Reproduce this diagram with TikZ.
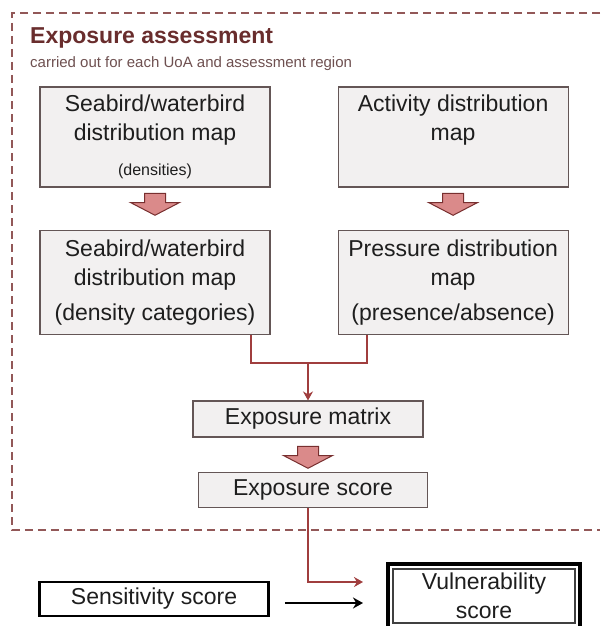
\documentclass[tikz,border=0pt]{standalone}
\usepackage{fontspec}
\setmainfont{Liberation Sans}
\usepackage{tikz}
\usetikzlibrary{arrows.meta,positioning,shapes.arrows}
\definecolor{frameRed}{RGB}{146,88,88}
\definecolor{titleRed}{RGB}{105,45,45}
\definecolor{subGray}{RGB}{110,80,80}
\definecolor{linkRed}{RGB}{160,62,62}
\definecolor{arrowPink}{RGB}{218,138,138}
\definecolor{boxGray}{RGB}{242,240,240}
\definecolor{boxEdge}{RGB}{100,86,86}
\definecolor{textGray}{RGB}{30,30,30}
\newcommand{\boxfont}{\fontsize{23}{29}\selectfont}
\newcommand{\notefont}{\fontsize{16}{19}\selectfont}

\begin{document}
\begin{tikzpicture}[
  x=1pt,y=-1pt,
  mapbox/.style={
    draw=boxEdge,
    line width=1.1pt,
    fill=boxGray,
    minimum width=230pt,
    minimum height=100pt,
    inner sep=0pt,
    align=center,
    font=\boxfont,
    text=textGray
  },
  stepbox/.style={mapbox,minimum height=36pt},
  blockarrow/.style={
    single arrow,
    draw=linkRed!75!black,
    line width=1pt,
    fill=arrowPink,
    rotate=-90,
    minimum height=22pt,
    minimum width=48pt,
    inner xsep=0pt,
    inner ysep=10pt,
    single arrow head extend=14pt,
    single arrow tip angle=125
  },
  link/.style={draw=linkRed,line width=1.5pt},
  sensbox/.style={
    draw=black,
    line width=2.5pt,
    fill=white,
    minimum width=229pt,
    minimum height=34pt,
    inner sep=0pt,
    font=\boxfont,
    text=textGray
  },
  vulnbox/.style={
    draw=black,
    line width=4pt,
    fill=white,
    minimum width=192pt,
    minimum height=64pt,
    inner sep=0pt,
    align=center,
    font=\boxfont,
    text=textGray,
    path picture={\draw[black!75,line width=1.4pt]
      ([shift={(5pt,-5pt)}]path picture bounding box.north west) rectangle
      ([shift={(-5pt,5pt)}]path picture bounding box.south east);}
  }
]
\useasboundingbox (0,0) rectangle (600,626);
\draw[frameRed,line width=1.5pt,dash pattern=on 8pt off 5pt] (600,13) -- (12,13) -- (12,530) -- (600,530);
\node[anchor=west,inner sep=0pt,font=\bfseries\fontsize{23}{27}\selectfont,text=titleRed] (title) at (30,38) {Exposure assessment};
\node[anchor=west,inner sep=0pt,font=\fontsize{15}{18}\selectfont,text=subGray] (subtitle) at (30,64) {carried out for each UoA and assessment region};

\node[mapbox] (seadens) at (155,137) {Seabird/waterbird\\distribution map\\[6pt]{\notefont (densities)}};
\node[mapbox,right=67pt of seadens] (actdist) {Activity distribution\\map\\[6pt]{\notefont\phantom{(densities)}}};
\node[mapbox,minimum height=104pt,below=42pt of seadens] (seacat) {Seabird/waterbird\\distribution map\\[6pt](density categories)};
\node[mapbox,minimum height=104pt,below=42pt of actdist] (presabs) {Pressure distribution\\map\\[6pt](presence/absence)};
\node[blockarrow] (down1) at ([yshift=-14pt]seadens.south) {};
\node[blockarrow] (down2) at ([yshift=-14pt]actdist.south) {};

\node[stepbox] (matrix) at (308,419) {Exposure matrix};
\node[stepbox,minimum width=229pt,minimum height=35pt] (score) at (313,490) {Exposure score};
\node[blockarrow] (down3) at ([yshift=-17pt]matrix.south) {};

\coordinate (join) at (308,363);
\draw[link] ([xshift=96pt]seacat.south) |- (join);
\draw[link] ([xshift=-86pt]presabs.south) |- (join);
\draw[link,-{Stealth[length=9pt,width=10pt]}] (join) -- (matrix);

\node[sensbox] (sens) at (154,599) {Sensitivity score};
\node[vulnbox] (vuln) at (484,596) {Vulnerability\\score};
\draw[link,-{Stealth[length=9pt,width=10pt]},shorten >=23pt] ([xshift=-5pt]score.south) |- ([yshift=14pt]vuln.west);
\draw[black,line width=2.5pt,-{Stealth[length=10pt,width=11pt]},shorten <=15pt,shorten >=23pt] ([yshift=-4pt]sens.east) -- ([yshift=-4pt]sens.east -| vuln.west);
\end{tikzpicture}
\end{document}
